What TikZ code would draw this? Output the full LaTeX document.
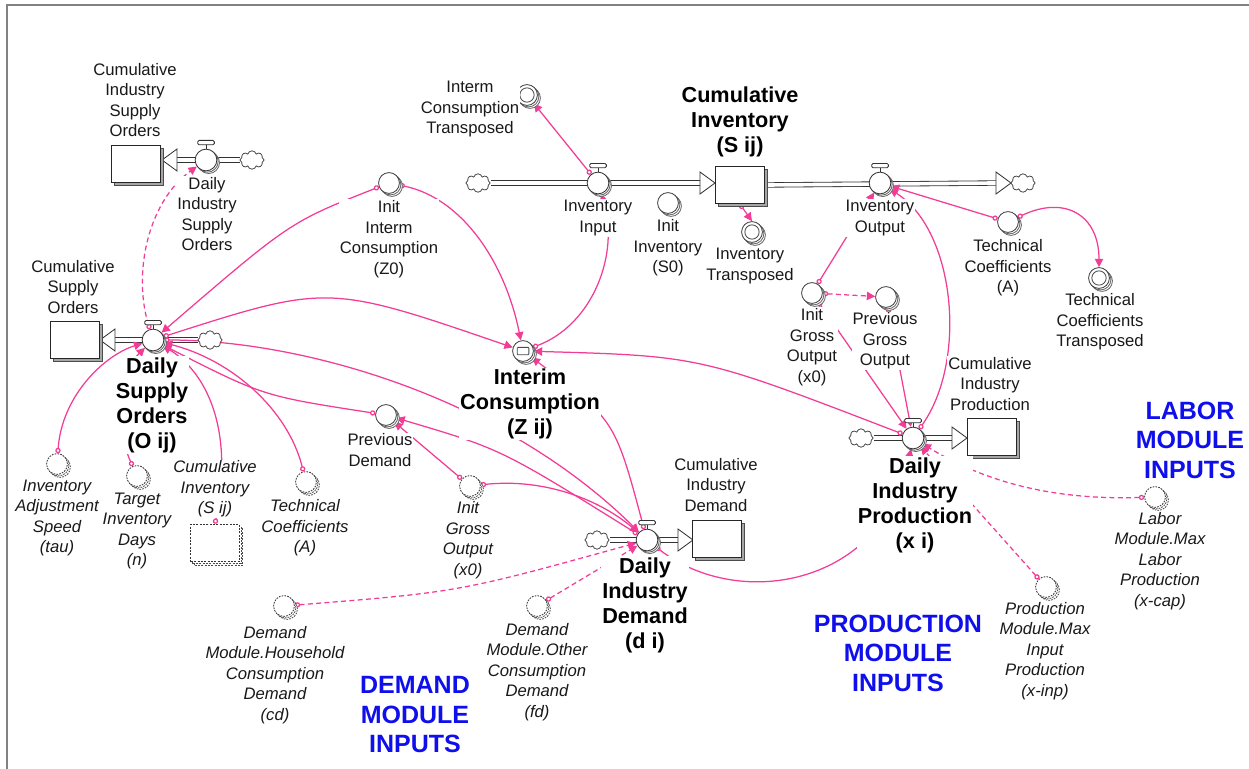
\documentclass[tikz,border=0pt]{standalone}
\usepackage{fontspec}
\setmainfont{Liberation Sans}
\usetikzlibrary{arrows.meta,shapes.symbols,shadows,calc}
\definecolor{conn}{RGB}{242,60,150}
\definecolor{modblue}{RGB}{15,15,235}
\definecolor{framec}{RGB}{130,130,130}
\pgfdeclarelayer{bg}\pgfdeclarelayer{cn}
\pgfsetlayers{bg,cn,main}
\newcommand{\vhandle}[1]{%
  \draw[black!80,line width=0.5pt] (#1.north) -- ([yshift=2.6pt]#1.north);
  \draw[black!80,fill=white,line width=0.5pt,rounded corners=0.8pt] ([xshift=-5pt,yshift=2.4pt]#1.north) rectangle ([xshift=5pt,yshift=5pt]#1.north);}
\newcommand{\ring}[1]{\draw[black!70,line width=0.5pt] (#1.center) circle[radius=4.3pt];}
\tikzset{
 conv/.style={circle, draw=black!75, fill=white, line width=0.5pt, minimum size=12.5pt, inner sep=0,
   double copy shadow={shadow xshift=0.9pt, shadow yshift=-0.9pt, draw=black!60, fill=white}},
 ghost/.style={circle, draw=black!80, fill=white, line width=0.5pt, dash pattern=on 1pt off 0.7pt, minimum size=12.5pt, inner sep=0,
   double copy shadow={shadow xshift=0.9pt, shadow yshift=-0.9pt, draw=black!70, fill=white, dash pattern=on 1pt off 0.7pt}},
 valvec/.style={circle, draw=black!80, fill=white, line width=0.5pt, minimum size=13pt, inner sep=0,
   double copy shadow={shadow xshift=0.8pt, shadow yshift=-0.8pt, draw=black!60, fill=white}},
 stock/.style={rectangle, draw=black!85, fill=white, line width=0.6pt, minimum width=29pt, minimum height=22.5pt, inner sep=0,
   copy shadow={shadow xshift=1.7pt, shadow yshift=-1.7pt, draw=black!70, fill=black!35}},
 ghoststock/.style={rectangle, draw=black!80, fill=white, line width=0.6pt, dash pattern=on 1.2pt off 0.8pt, minimum width=29pt, minimum height=22.5pt, inner sep=0,
   double copy shadow={shadow xshift=1.1pt, shadow yshift=-1.1pt, draw=black!70, fill=white, dash pattern=on 1.2pt off 0.8pt}},
 cloudn/.style={cloud, cloud puffs=8, draw=black!70, fill=white, line width=0.5pt, minimum width=14.5pt, minimum height=11pt, inner sep=0, aspect=1.4},
 pipe/.style={draw=black!80, double=white, double distance=2.2pt, line width=0.5pt},
 flowhead/.style={draw=black!80, fill=white, line width=0.5pt, line join=miter},
 lk/.style={conn, line width=0.75pt, arrows={Circle[length=3.2pt,width=3.2pt,fill=white]-Triangle[length=5pt,width=5pt]}},
 lkd/.style={lk, dash pattern=on 3pt off 2pt},
 lbl/.style={align=center, font=\fontsize{10}{12.3}\selectfont, inner sep=0.6pt, fill=white, text=black!90},
 lblb/.style={lbl, font=\fontsize{13}{15}\selectfont\bfseries, text=black},
 lbli/.style={lbl, font=\fontsize{10}{12.3}\selectfont\itshape},
 lblm/.style={align=center, font=\fontsize{15}{17.7}\selectfont\bfseries, text=modblue, inner sep=0},
}
\begin{document}
\begin{tikzpicture}[x=0.6pt,y=-0.6pt]
\useasboundingbox (0,0) rectangle (1249,769);
\draw[framec, line width=1.3pt] (7,769) -- (7,5) -- (1249,5);

% stocks
\node[stock] (sCISO) at (136,164) {};
\node[stock] (sCSO) at (75,340) {};
\node[stock] (sCI) at (740,185) {};
\node[stock] (sCIP) at (992,437) {};
\node[stock] (sCID) at (717,539) {};
\node[ghoststock] (gCI) at (215,543) {};

% clouds
\node[cloudn] (cDISO) at (252,160) {};
\node[cloudn] (cDSO) at (210,340) {};
\node[cloudn] (cII) at (478,183) {};
\node[cloudn] (cIO) at (1023,183) {};
\node[cloudn] (cDIP) at (861,438) {};
\node[cloudn] (cDID) at (597,540) {};

% valves
\node[valvec] (vDISO) at (206,160) {}; \vhandle{vDISO}
\node[valvec] (vDSO) at (153,340) {}; \vhandle{vDSO}
\node[valvec] (vII) at (598,183) {}; \vhandle{vII}
\node[valvec] (vIO) at (880,183) {}; \vhandle{vIO}
\node[valvec] (vDIP) at (913,438) {}; \vhandle{vDIP}
\node[valvec] (vDID) at (647,540) {}; \vhandle{vDID}

% pipes
\begin{pgfonlayer}{bg}
\draw[pipe] (cDISO.west) -- (177,160);
\draw[flowhead] (162,160) -- (177,149) -- (177,171) -- cycle;
\draw[pipe] (cDSO.west) -- (115,340);
\draw[flowhead] (100,340) -- (115,329) -- (115,351) -- cycle;
\draw[pipe] (cII.east) -- (701,183);
\draw[flowhead] (715,183) -- (700,172) -- (700,194) -- cycle;
\draw[pipe] (sCI.east) -- (997,183);
\draw[flowhead] (1011,183) -- (996,172) -- (996,194) -- cycle;
\draw[pipe] (cDIP.east) -- (953,438);
\draw[flowhead] (967,438) -- (952,427) -- (952,449) -- cycle;
\draw[pipe] (cDID.east) -- (679,540);
\draw[flowhead] (693,540) -- (678,529) -- (678,551) -- cycle;
\end{pgfonlayer}

% converters
\node[conv] (cICT) at (527,95) {}; \ring{cICT}
\node[conv] (cIS0) at (668,203) {};
\node[conv] (cIT) at (752,232) {}; \ring{cIT}
\node[conv] (cZ0) at (389,183) {};
\node[conv] (cTCA) at (1008,222) {};
\node[conv] (cTCT) at (1099,278) {}; \ring{cTCT}
\node[conv] (cIGO) at (812,293) {};
\node[conv] (cPGO) at (886,297) {};
\node[conv] (cIC) at (523,351) {};
\draw[black!70, line width=0.5pt, rounded corners=0.5pt] ([xshift=-3.5pt,yshift=-2.2pt]cIC.center) rectangle ([xshift=3.5pt,yshift=2.2pt]cIC.center);
\node[conv] (cPD) at (386,415) {};
% ghosts
\node[ghost] (gTau) at (57,464) {};
\node[ghost] (gN) at (137,476) {};
\node[ghost] (gTCA) at (306,482) {};
\node[ghost] (gIGO) at (470,486) {};
\node[ghost] (gCD) at (284,606) {};
\node[ghost] (gFD) at (537,606) {};
\node[ghost] (gLab) at (1155,497) {};
\node[ghost] (gProd) at (1046,587) {};

% connectors
\begin{pgfonlayer}{cn}
\draw[lk] (vII) -- (cICT);
\draw[lk] (sCI.south) -- (cIT.north);
\draw[lk] (cIGO) -- (vIO);
\draw[lk] (cTCA) -- (vIO);
\draw[lk] (cTCA) .. controls (1065,195) and (1099,215) .. (cTCT);
\draw[lkd] (cIGO) -- (cPGO);
\draw[lk] (cIGO) -- (vDIP);
\draw[lk] (cPGO) -- (vDIP);
\draw[lk] (vDIP) .. controls (968,360) and (955,230) .. (vIO);
\draw[lk] (vDIP) .. controls (700,356) .. (cIC);
\draw[lk] (cIC) .. controls (592,325) and (620,255) .. (vII);
\draw[lk] (cZ0) .. controls (462,198) and (505,262) .. (cIC);
\draw[lk] (cZ0) .. controls (290,222) .. (vDSO);
\draw[lk] (vDSO) .. controls (328,284) .. (cIC);
\draw[lk] (vDSO) .. controls (300,340) and (500,395) .. (vDID);
\draw[lk] (cPD) .. controls (263,396) .. (vDSO);
\draw[lk] (vDID) .. controls (501,449) .. (cPD);
\draw[lk] (gIGO) -- (cPD);
\draw[lk] (gIGO) .. controls (545,478) and (600,500) .. (vDID);
\draw[lk] (vDID) .. controls (615,420) .. (cIC);
\draw[lk] (vDID) .. controls (740,612) and (885,585) .. (vDIP);
\draw[lkd] (gLab) .. controls (1060,500) and (990,485) .. (vDIP);
\draw[lkd] (gProd) -- (vDIP);
\draw[lkd] (gCD) .. controls (459,592) .. (vDID);
\draw[lkd] (gFD) -- (vDID);
\draw[lkd] (vDSO) .. controls (132,270) and (150,200) .. (vDISO);
\draw[lk] (gTau) .. controls (62,395) and (105,355) .. (vDSO);
\draw[lk] (gN) .. controls (112,420) and (122,370) .. (vDSO);
\draw[lk] (gCI.north) .. controls (236,420) and (200,368) .. (vDSO);
\draw[lk] (gTCA) .. controls (288,410) and (232,360) .. (vDSO);
\end{pgfonlayer}

% labels
\node[lbl] (lCISO) at (135,100) {Cumulative\\Industry\\Supply\\Orders};
\node[lbl] (lDISO) at (207,214) {Daily\\Industry\\Supply\\Orders};
\node[lbl] (lCSO) at (73,287) {Cumulative\\Supply\\Orders};
\node[lbl] (lICT) at (470,109) {Interm\\Consumption\\Transposed};
\node[lbl] (lII) at (598,218) {Inventory\\Input};
\node[lbl] (lIS0) at (668,248) {Init\\Inventory\\(S0)};
\node[lbl] (lIT) at (750,266) {Inventory\\Transposed};
\node[lbl] (lZ0) at (389,239) {Init\\Interm\\Consumption\\(Z0)};
\node[lbl] (lIO) at (880,218) {Inventory\\Output};
\node[lbl] (lTCA) at (1008,268) {Technical\\Coefficients\\(A)};
\node[lbl] (lTCT) at (1100,322) {Technical\\Coefficients\\Transposed};
\node[lbl] (lIGO) at (812,347) {Init\\Gross\\Output\\(x0)};
\node[lbl] (lPGO) at (885,341) {Previous\\Gross\\Output};
\node[lbl] (lCIP) at (990,384) {Cumulative\\Industry\\Production};
\node[lbl] (lPD) at (380,450) {Previous\\Demand};
\node[lbl] (lCID) at (716,485) {Cumulative\\Industry\\Demand};

\node[lblb] (lCI) at (740,122) {Cumulative\\Inventory\\(S ij)};
\node[lblb] (lDSO) at (152,405) {Daily\\Supply\\Orders\\(O ij)};
\node[lblb] (lIC) at (530,404) {Interim\\Consumption\\(Z ij)};
\node[lblb] (lDIP) at (915,505) {Daily\\Industry\\Production\\(x i)};
\node[lblb] (lDID) at (645,605) {Daily\\Industry\\Demand\\(d i)};

\node[lbli] (lTau) at (57,518) {Inventory\\Adjustment\\Speed\\(tau)};
\node[lbli] (lN) at (137,531) {Target\\Inventory\\Days\\(n)};
\node[lbli] (lGCI) at (215,489) {Cumulative\\Inventory\\(S ij)};
\node[lbli] (lGTCA) at (305,528) {Technical\\Coefficients\\(A)};
\node[lbli] (lGIGO) at (468,540) {Init\\Gross\\Output\\(x0)};
\node[lbli] (lCD) at (275,675) {Demand\\Module.Household\\Consumption\\Demand\\(cd)};
\node[lbli] (lFD) at (537,672) {Demand\\Module.Other\\Consumption\\Demand\\(fd)};
\node[lbli] (lLab) at (1160,561) {Labor\\Module.Max\\Labor\\Production\\(x-cap)};
\node[lbli] (lProd) at (1045,651) {Production\\Module.Max\\Input\\Production\\(x-inp)};

\node[lblm] (mLab) at (1190,440) {LABOR\\MODULE\\INPUTS};
\node[lblm] (mProd) at (898,653) {PRODUCTION\\MODULE\\INPUTS};
\node[lblm] (mDem) at (415,715) {DEMAND\\MODULE\\INPUTS};
\end{tikzpicture}
\end{document}
